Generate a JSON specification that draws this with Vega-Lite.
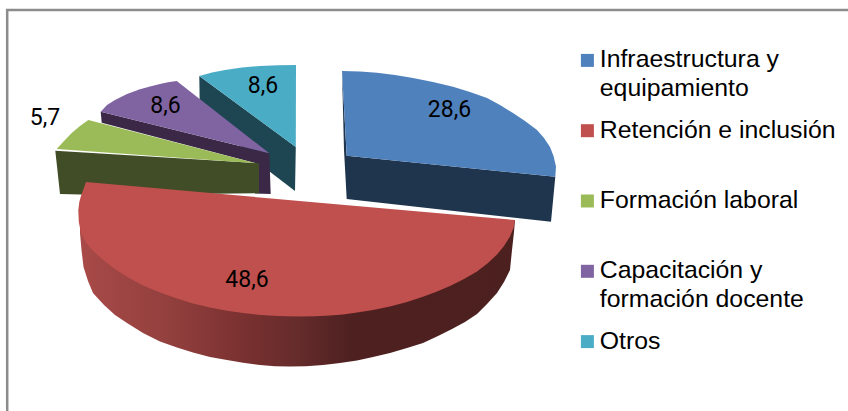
{
  "$schema": "https://vega.github.io/schema/vega-lite/v6.json",
  "width": 848,
  "height": 411,
  "padding": 0,
  "autosize": {"type": "none"},
  "background": "#ffffff",
  "view": {"stroke": null},
  "config": {"style": {"guide-label": {"lineHeight": 29}}},
  "datasets": {
    "marco": [
      {"x": 7.2, "y": 411, "i": 0},
      {"x": 7.2, "y": 10, "i": 1},
      {"x": 848, "y": 10, "i": 2}
    ],
    "lateralOtros": [
      {"x": 199.3, "y": 76, "i": 0},
      {"x": 295.8, "y": 147, "i": 1},
      {"x": 295, "y": 191, "i": 2},
      {"x": 265, "y": 168, "i": 3},
      {"x": 199.8, "y": 110, "i": 4}
    ],
    "lateralCapacitacion": [
      {"x": 100.7, "y": 111.7, "i": 0},
      {"x": 269.3, "y": 153.3, "i": 1},
      {"x": 270.7, "y": 194, "i": 2},
      {"x": 255, "y": 193.5, "i": 3},
      {"x": 255, "y": 163, "i": 4},
      {"x": 101.7, "y": 122.7, "i": 5}
    ],
    "lateralFormacion": [
      {"x": 55.3, "y": 150.7, "i": 0},
      {"x": 259, "y": 163.3, "i": 1},
      {"x": 259, "y": 193.3, "i": 2},
      {"x": 100, "y": 195, "i": 3},
      {"x": 60, "y": 194, "i": 4}
    ],
    "lateralInfraestructura": [
      {"x": 342, "y": 71, "i": 0},
      {"x": 346.7, "y": 155.7, "i": 1},
      {"x": 555.3, "y": 176.7, "i": 2},
      {"x": 551, "y": 221.7, "i": 3},
      {"x": 346.7, "y": 199, "i": 4},
      {"x": 344, "y": 150, "i": 5}
    ],
    "lateralRetencion": [
      {"x": 515, "y": 220, "i": 0}, {"x": 514, "y": 232, "i": 1}, {"x": 512, "y": 250, "i": 2},
      {"x": 510, "y": 270, "i": 3}, {"x": 504, "y": 282, "i": 4}, {"x": 497, "y": 293, "i": 5},
      {"x": 487, "y": 304, "i": 6}, {"x": 477, "y": 314, "i": 7}, {"x": 465, "y": 322, "i": 8},
      {"x": 452, "y": 329, "i": 9}, {"x": 438, "y": 336, "i": 10}, {"x": 423, "y": 343, "i": 11},
      {"x": 407, "y": 348, "i": 12}, {"x": 390, "y": 353, "i": 13}, {"x": 373, "y": 357, "i": 14},
      {"x": 357, "y": 360.5, "i": 15}, {"x": 340, "y": 363, "i": 16}, {"x": 323, "y": 365, "i": 17},
      {"x": 306, "y": 366.2, "i": 18}, {"x": 290, "y": 366.6, "i": 19}, {"x": 275, "y": 366.2, "i": 20},
      {"x": 260, "y": 365, "i": 21}, {"x": 243, "y": 362.8, "i": 22}, {"x": 227, "y": 360, "i": 23},
      {"x": 210, "y": 357, "i": 24}, {"x": 193, "y": 352.5, "i": 25}, {"x": 177, "y": 347.5, "i": 26},
      {"x": 160, "y": 341.5, "i": 27}, {"x": 143, "y": 333, "i": 28}, {"x": 127, "y": 323, "i": 29},
      {"x": 115, "y": 315, "i": 30}, {"x": 104, "y": 305, "i": 31}, {"x": 93, "y": 293, "i": 32},
      {"x": 88, "y": 281, "i": 33}, {"x": 83.5, "y": 267, "i": 34}, {"x": 81.5, "y": 250, "i": 35},
      {"x": 80, "y": 233, "i": 36}, {"x": 80, "y": 220, "i": 37}
    ],
    "superior": [
      {"parte": "Otros", "x": 199.3, "y": 76, "i": 0},
      {"parte": "Otros", "x": 212, "y": 72.5, "i": 1},
      {"parte": "Otros", "x": 225, "y": 70, "i": 2},
      {"parte": "Otros", "x": 242, "y": 67.5, "i": 3},
      {"parte": "Otros", "x": 260, "y": 66, "i": 4},
      {"parte": "Otros", "x": 278, "y": 65.2, "i": 5},
      {"parte": "Otros", "x": 296, "y": 65, "i": 6},
      {"parte": "Otros", "x": 295.8, "y": 147, "i": 7},

      {"parte": "Capacitación y|formación docente", "x": 100.7, "y": 111.7, "i": 0},
      {"parte": "Capacitación y|formación docente", "x": 107, "y": 105, "i": 1},
      {"parte": "Capacitación y|formación docente", "x": 115, "y": 100, "i": 2},
      {"parte": "Capacitación y|formación docente", "x": 127, "y": 94, "i": 3},
      {"parte": "Capacitación y|formación docente", "x": 140, "y": 89.3, "i": 4},
      {"parte": "Capacitación y|formación docente", "x": 150, "y": 86.5, "i": 5},
      {"parte": "Capacitación y|formación docente", "x": 160, "y": 84, "i": 6},
      {"parte": "Capacitación y|formación docente", "x": 168, "y": 82.3, "i": 7},
      {"parte": "Capacitación y|formación docente", "x": 176.7, "y": 81, "i": 8},
      {"parte": "Capacitación y|formación docente", "x": 269.3, "y": 153.3, "i": 9},

      {"parte": "Formación laboral", "x": 88.3, "y": 120, "i": 0},
      {"parte": "Formación laboral", "x": 80, "y": 126, "i": 1},
      {"parte": "Formación laboral", "x": 71.7, "y": 133, "i": 2},
      {"parte": "Formación laboral", "x": 64, "y": 141, "i": 3},
      {"parte": "Formación laboral", "x": 56.7, "y": 149, "i": 4},
      {"parte": "Formación laboral", "x": 256, "y": 163.3, "i": 5},

      {"parte": "Infraestructura y|equipamiento", "x": 342, "y": 71, "i": 0},
      {"parte": "Infraestructura y|equipamiento", "x": 360, "y": 71.5, "i": 1},
      {"parte": "Infraestructura y|equipamiento", "x": 377, "y": 72.7, "i": 2},
      {"parte": "Infraestructura y|equipamiento", "x": 395, "y": 75, "i": 3},
      {"parte": "Infraestructura y|equipamiento", "x": 413, "y": 78, "i": 4},
      {"parte": "Infraestructura y|equipamiento", "x": 433, "y": 82, "i": 5},
      {"parte": "Infraestructura y|equipamiento", "x": 453, "y": 86.7, "i": 6},
      {"parte": "Infraestructura y|equipamiento", "x": 470, "y": 92, "i": 7},
      {"parte": "Infraestructura y|equipamiento", "x": 487, "y": 98, "i": 8},
      {"parte": "Infraestructura y|equipamiento", "x": 500, "y": 105, "i": 9},
      {"parte": "Infraestructura y|equipamiento", "x": 513, "y": 113, "i": 10},
      {"parte": "Infraestructura y|equipamiento", "x": 525, "y": 121, "i": 11},
      {"parte": "Infraestructura y|equipamiento", "x": 537, "y": 130, "i": 12},
      {"parte": "Infraestructura y|equipamiento", "x": 544, "y": 138, "i": 13},
      {"parte": "Infraestructura y|equipamiento", "x": 550, "y": 147, "i": 14},
      {"parte": "Infraestructura y|equipamiento", "x": 553.5, "y": 156, "i": 15},
      {"parte": "Infraestructura y|equipamiento", "x": 556, "y": 166.5, "i": 16},
      {"parte": "Infraestructura y|equipamiento", "x": 555.3, "y": 176.7, "i": 17},
      {"parte": "Infraestructura y|equipamiento", "x": 346.7, "y": 155.7, "i": 18},

      {"parte": "Retención e inclusión", "x": 86, "y": 182, "i": 0},
      {"parte": "Retención e inclusión", "x": 515, "y": 220, "i": 1},
      {"parte": "Retención e inclusión", "x": 513.5, "y": 228, "i": 2},
      {"parte": "Retención e inclusión", "x": 510, "y": 236.5, "i": 3},
      {"parte": "Retención e inclusión", "x": 504, "y": 246, "i": 4},
      {"parte": "Retención e inclusión", "x": 497, "y": 254.5, "i": 5},
      {"parte": "Retención e inclusión", "x": 488, "y": 263, "i": 6},
      {"parte": "Retención e inclusión", "x": 477, "y": 271.5, "i": 7},
      {"parte": "Retención e inclusión", "x": 464, "y": 279, "i": 8},
      {"parte": "Retención e inclusión", "x": 450, "y": 286, "i": 9},
      {"parte": "Retención e inclusión", "x": 437, "y": 291.5, "i": 10},
      {"parte": "Retención e inclusión", "x": 423, "y": 296.7, "i": 11},
      {"parte": "Retención e inclusión", "x": 407, "y": 302, "i": 12},
      {"parte": "Retención e inclusión", "x": 390, "y": 306.5, "i": 13},
      {"parte": "Retención e inclusión", "x": 373, "y": 310, "i": 14},
      {"parte": "Retención e inclusión", "x": 357, "y": 312.5, "i": 15},
      {"parte": "Retención e inclusión", "x": 343, "y": 314.5, "i": 16},
      {"parte": "Retención e inclusión", "x": 330, "y": 315.6, "i": 17},
      {"parte": "Retención e inclusión", "x": 315, "y": 316.2, "i": 18},
      {"parte": "Retención e inclusión", "x": 300, "y": 316.4, "i": 19},
      {"parte": "Retención e inclusión", "x": 287, "y": 316.3, "i": 20},
      {"parte": "Retención e inclusión", "x": 273, "y": 315.8, "i": 21},
      {"parte": "Retención e inclusión", "x": 258, "y": 314.8, "i": 22},
      {"parte": "Retención e inclusión", "x": 243, "y": 313, "i": 23},
      {"parte": "Retención e inclusión", "x": 227, "y": 310.8, "i": 24},
      {"parte": "Retención e inclusión", "x": 210, "y": 307.5, "i": 25},
      {"parte": "Retención e inclusión", "x": 193, "y": 303.5, "i": 26},
      {"parte": "Retención e inclusión", "x": 177, "y": 298.5, "i": 27},
      {"parte": "Retención e inclusión", "x": 160, "y": 292.5, "i": 28},
      {"parte": "Retención e inclusión", "x": 143, "y": 285.5, "i": 29},
      {"parte": "Retención e inclusión", "x": 130, "y": 278.5, "i": 30},
      {"parte": "Retención e inclusión", "x": 117, "y": 270.5, "i": 31},
      {"parte": "Retención e inclusión", "x": 105, "y": 261.5, "i": 32},
      {"parte": "Retención e inclusión", "x": 93, "y": 251, "i": 33},
      {"parte": "Retención e inclusión", "x": 86, "y": 242.5, "i": 34},
      {"parte": "Retención e inclusión", "x": 81, "y": 233, "i": 35},
      {"parte": "Retención e inclusión", "x": 78.8, "y": 222, "i": 36},
      {"parte": "Retención e inclusión", "x": 78.3, "y": 210, "i": 37},
      {"parte": "Retención e inclusión", "x": 79.3, "y": 202, "i": 38},
      {"parte": "Retención e inclusión", "x": 81, "y": 196, "i": 39}
    ],
    "porcentajes": [
      {"parte": "Infraestructura y|equipamiento", "valor": "28,6", "x": 449.5, "y": 110},
      {"parte": "Retención e inclusión", "valor": "48,6", "x": 247, "y": 280},
      {"parte": "Formación laboral", "valor": "5,7", "x": 45, "y": 118},
      {"parte": "Capacitación y|formación docente", "valor": "8,6", "x": 165.5, "y": 106},
      {"parte": "Otros", "valor": "8,6", "x": 263, "y": 86}
    ]
  },
  "encoding": {
    "x": {"field": "x", "type": "quantitative", "scale": {"domain": [0, 848]}, "axis": null},
    "y": {"field": "y", "type": "quantitative", "scale": {"domain": [411, 0]}, "axis": null}
  },
  "layer": [
    {
      "data": {"name": "marco"},
      "mark": {"type": "line", "stroke": "#8c8c8c", "strokeWidth": 2.5},
      "encoding": {"order": {"field": "i"}}
    },
    {
      "data": {"name": "lateralOtros"},
      "mark": {"type": "line", "filled": true, "fill": "#1d4652"},
      "encoding": {"order": {"field": "i"}}
    },
    {
      "data": {"name": "lateralCapacitacion"},
      "mark": {"type": "line", "filled": true, "fill": "#3a2846"},
      "encoding": {"order": {"field": "i"}}
    },
    {
      "data": {"name": "lateralFormacion"},
      "mark": {"type": "line", "filled": true, "fill": "#414d27"},
      "encoding": {"order": {"field": "i"}}
    },
    {
      "data": {"name": "lateralInfraestructura"},
      "mark": {"type": "line", "filled": true, "fill": "#1f344d"},
      "encoding": {"order": {"field": "i"}}
    },
    {
      "data": {"name": "lateralRetencion"},
      "mark": {
        "type": "line",
        "filled": true,
        "fill": {
          "gradient": "linear",
          "x1": 0, "y1": 0, "x2": 1, "y2": 0,
          "stops": [
            {"offset": 0, "color": "#a84a48"},
            {"offset": 0.2, "color": "#93403e"},
            {"offset": 0.4, "color": "#762f2f"},
            {"offset": 0.5, "color": "#662c2c"},
            {"offset": 0.575, "color": "#572424"},
            {"offset": 0.63, "color": "#4e2020"},
            {"offset": 1, "color": "#4d2020"}
          ]
        }
      },
      "encoding": {"order": {"field": "i"}}
    },
    {
      "data": {"name": "superior"},
      "mark": {"type": "line", "filled": true},
      "encoding": {
        "order": {"field": "i"},
        "detail": {"field": "parte"},
        "fill": {
          "field": "parte",
          "type": "nominal",
          "scale": {
            "domain": ["Infraestructura y|equipamiento", "Retención e inclusión", "Formación laboral", "Capacitación y|formación docente", "Otros"],
            "range": ["#4f81bd", "#c0504d", "#9bbb59", "#8064a2", "#4bacc6"]
          },
          "legend": {
            "orient": "none",
            "legendX": 575,
            "legendY": 48,
            "padding": 0,
            "title": null,
            "symbolType": "square",
            "symbolSize": 169,
            "symbolStrokeWidth": 0,
            "labelFont": "Liberation Sans",
            "labelFontSize": 24.8,
            "labelColor": "#000000",
            "labelLimit": 300,
            "labelOffset": 0,
            "labelExpr": "split(datum.label, '|')",
            "gridAlign": "all",
            "rowPadding": 15.3
          }
        }
      }
    },
    {
      "data": {"name": "porcentajes"},
      "mark": {"type": "text", "font": "Roboto", "fontSize": 23, "color": "#000000"},
      "encoding": {"text": {"field": "valor"}}
    }
  ]
}
